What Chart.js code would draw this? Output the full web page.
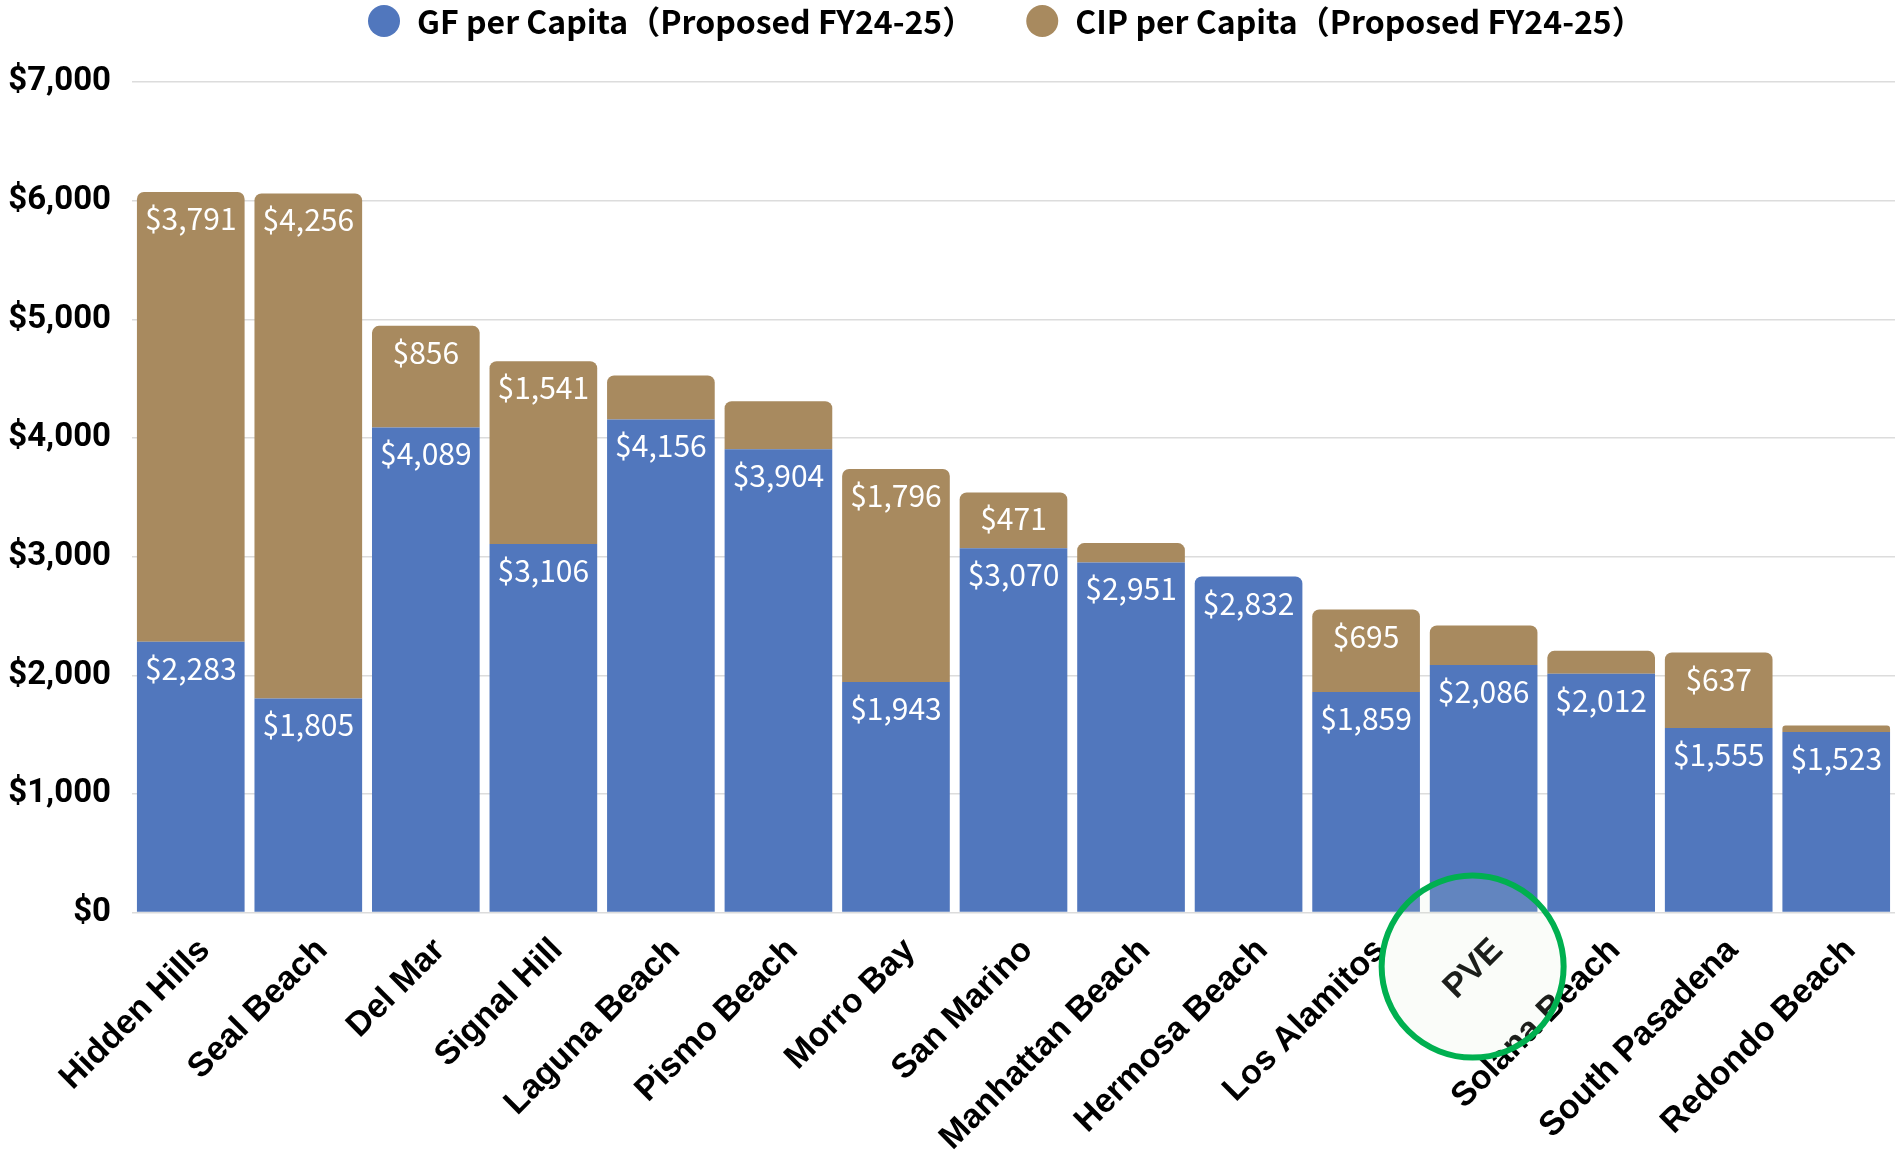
<!DOCTYPE html>
<html><head><meta charset="utf-8">
<script src="https://cdn.jsdelivr.net/npm/chart.js@4.4.1/dist/chart.umd.min.js"></script>
<style>html,body{margin:0;padding:0;background:#fff;overflow:hidden}#wrap{width:1895px;height:1152px}</style>
</head><body><div id="wrap"><canvas id="c" width="1895" height="1152"></canvas></div>
<script>
const categories = ['Hidden Hills','Seal Beach','Del Mar','Signal Hill','Laguna Beach','Pismo Beach','Morro Bay','San Marino','Manhattan Beach','Hermosa Beach','Los Alamitos','PVE','Solana Beach','South Pasadena','Redondo Beach'];
const gfValues  = [2283,1805,4089,3106,4156,3904,1943,3070,2951,2832,1859,2086,2012,1555,1523];
const cipValues = [3791,4256, 856,1541, 370, 405,1796, 471, 163,   0, 695, 333, 194, 637,  53];
const seriesNames = ['GF per Capita（Proposed FY24-25）','CIP per Capita（Proposed FY24-25）'];
const yTickValues = [0,1000,2000,3000,4000,5000,6000,7000];
const highlightCategory = 'PVE';
const labelThreshold = 450;

const BLUE = '#5177bd', TAN = '#a88a5f', GREEN = '#00b050';
const fmt = v => '$' + v.toLocaleString('en-US');

const legendPlugin = {
  id: 'customLegend',
  afterDraw(chart) {
    const ctx = chart.ctx;
    ctx.save();
    ctx.font = 'bold 32px "Noto Sans CJK JP"';
    ctx.textBaseline = 'middle';
    ctx.textAlign = 'left';
    let x = 368; const y = 21, r = 16;
    chart.data.datasets.forEach(ds => {
      ctx.fillStyle = ds.backgroundColor;
      ctx.beginPath(); ctx.arc(x + r, y, r, 0, Math.PI * 2); ctx.fill();
      ctx.fillStyle = '#000';
      ctx.fillText(ds.label, x + r + 33, y + 1);
      x += r + 33 + ctx.measureText(ds.label).width + 52;
    });
    ctx.restore();
  }
};

const valueLabelPlugin = {
  id: 'valueLabels',
  afterDatasetsDraw(chart) {
    const ctx = chart.ctx;
    ctx.save();
    ctx.font = '30px "Noto Sans CJK JP"';
    ctx.fillStyle = '#fff';
    ctx.textAlign = 'center';
    ctx.textBaseline = 'alphabetic';
    chart.data.datasets.forEach((ds, di) => {
      const meta = chart.getDatasetMeta(di);
      meta.data.forEach((bar, i) => {
        const v = ds.data[i];
        if (v >= labelThreshold) ctx.fillText(fmt(v), bar.x, bar.y + 38);
      });
    });
    ctx.restore();
  }
};

const highlightPlugin = {
  id: 'highlight',
  afterDraw(chart) {
    const xs = chart.scales.x, ys = chart.scales.y;
    const idx = categories.indexOf(highlightCategory);
    const cx = xs.getPixelForValue(idx) - 11;
    const cy = ys.getPixelForValue(0) + 54;
    const ctx = chart.ctx;
    ctx.save();
    ctx.beginPath(); ctx.arc(cx, cy, 91, 0, Math.PI * 2);
    ctx.fillStyle = 'rgba(215,232,205,0.13)'; ctx.fill();
    ctx.lineWidth = 6; ctx.strokeStyle = GREEN; ctx.stroke();
    ctx.restore();
  }
};

new Chart(document.getElementById('c'), {
  type: 'bar',
  data: {
    labels: categories,
    datasets: [
      { label: seriesNames[0], data: gfValues, backgroundColor: BLUE,
        borderRadius: ctx => cipValues[ctx.dataIndex] > 0 ? 0 : {topLeft: 7, topRight: 7, bottomLeft: 0, bottomRight: 0},
        borderSkipped: false, barPercentage: 0.916, categoryPercentage: 1 },
      { label: seriesNames[1], data: cipValues, backgroundColor: TAN,
        borderRadius: {topLeft: 7, topRight: 7, bottomLeft: 0, bottomRight: 0},
        borderSkipped: false, barPercentage: 0.916, categoryPercentage: 1 }
    ]
  },
  options: {
    responsive: false, animation: false, devicePixelRatio: 1,
    layout: { padding: { top: 82, right: 0, bottom: 0, left: 0 } },
    plugins: { legend: { display: false }, tooltip: { enabled: false } },
    scales: {
      x: {
        stacked: true,
        grid: { display: false, drawTicks: false },
        border: { display: false },
        ticks: { color: '#000', font: { family: 'Liberation Sans', weight: 'bold', size: 34 },
                 minRotation: 45, maxRotation: 45, padding: 18, labelOffset: 14, autoSkip: false },
        afterFit: s => { s.height = 239.4; }
      },
      y: {
        stacked: true, min: 0, max: 7000,
        afterBuildTicks: s => { s.ticks = yTickValues.map(v => ({ value: v })); },
        grid: { color: '#dcdcdc', lineWidth: 1.5, drawTicks: false },
        border: { display: false },
        ticks: { color: '#000', font: { family: 'Roboto', weight: 'bold', size: 33 },
                 padding: 21, callback: v => fmt(v) },
        afterFit: s => { s.width = 132; }
      }
    }
  },
  plugins: [valueLabelPlugin, legendPlugin, highlightPlugin]
});
</script></body></html>
